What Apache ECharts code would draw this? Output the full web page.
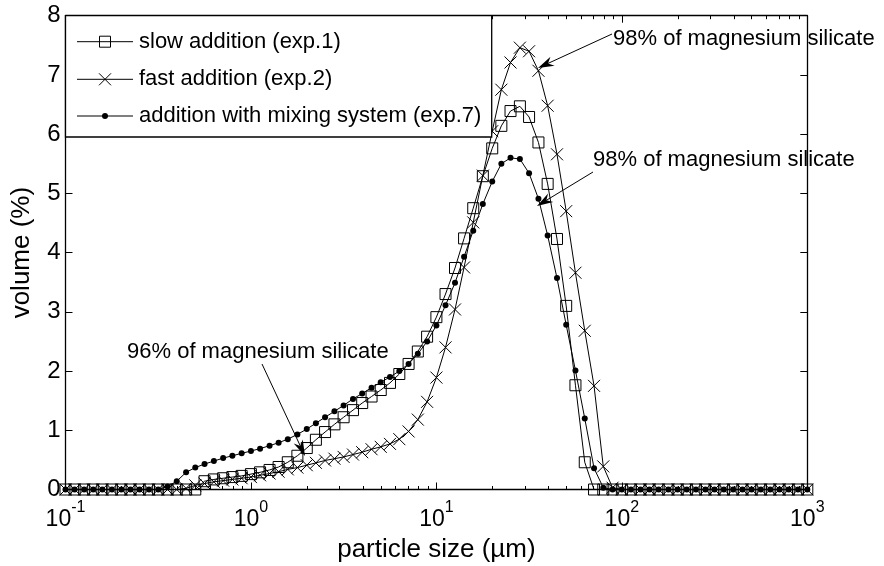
<!DOCTYPE html>
<html>
<head>
<meta charset="utf-8">
<script src="https://cdn.jsdelivr.net/npm/echarts@6/dist/echarts.min.js"></script>
<style>
  html, body { margin: 0; padding: 0; background: #fff; }
  #chart { width: 884px; height: 566px; }
</style>
</head>
<body>
<div id="chart"></div>
<script>
// Particle size classes (µm), 20 classes per decade
const sizes = [
  0.1, 0.112, 0.126, 0.141, 0.158, 0.178, 0.2, 0.224, 0.251, 0.282,
  0.316, 0.355, 0.398, 0.447, 0.501, 0.562, 0.631, 0.708, 0.794, 0.891,
  1, 1.12, 1.26, 1.41, 1.58, 1.78, 2.0, 2.24, 2.51, 2.82,
  3.16, 3.55, 3.98, 4.47, 5.01, 5.62, 6.31, 7.08, 7.94, 8.91,
  10, 11.2, 12.6, 14.1, 15.8, 17.8, 20.0, 22.4, 25.1, 28.2,
  31.6, 35.5, 39.8, 44.7, 50.1, 56.2, 63.1, 70.8, 79.4, 89.1,
  100, 112, 126, 141, 158, 178, 200, 224, 251, 282,
  316, 355, 398, 447, 501, 562, 631, 708, 794, 891, 1000
];

// Volume (%) per size class
const slowAddition = [
  0, 0, 0, 0, 0, 0, 0, 0, 0, 0,
  0, 0, 0, 0, 0, 0.14, 0.17, 0.19, 0.21, 0.23,
  0.26, 0.29, 0.33, 0.38, 0.46, 0.57, 0.70, 0.84, 0.97, 1.10,
  1.22, 1.34, 1.46, 1.57, 1.68, 1.80, 1.95, 2.12, 2.33, 2.58,
  2.91, 3.30, 3.74, 4.24, 4.75, 5.29, 5.76, 6.14, 6.39, 6.47,
  6.29, 5.86, 5.16, 4.23, 3.10, 1.76, 0.46, 0, 0, 0,
  0, 0, 0, 0, 0, 0, 0, 0, 0, 0,
  0, 0, 0, 0, 0, 0, 0, 0, 0, 0, 0
];

const fastAddition = [
  0, 0, 0, 0, 0, 0, 0, 0, 0, 0,
  0, 0, 0, 0.02, 0.07, 0.10, 0.13, 0.15, 0.17, 0.19,
  0.21, 0.24, 0.27, 0.30, 0.34, 0.37, 0.41, 0.45, 0.49, 0.52,
  0.55, 0.59, 0.63, 0.68, 0.72, 0.77, 0.85, 0.98, 1.18, 1.48,
  1.89, 2.40, 3.04, 3.75, 4.51, 5.30, 6.05, 6.75, 7.21, 7.46,
  7.40, 7.07, 6.48, 5.66, 4.70, 3.66, 2.68, 1.75, 0.39, 0.03,
  0, 0, 0, 0, 0, 0, 0, 0, 0, 0,
  0, 0, 0, 0, 0, 0, 0, 0, 0, 0, 0
];

const mixingSystem = [
  0, 0, 0, 0, 0, 0, 0, 0, 0, 0,
  0, 0.05, 0.14, 0.29, 0.37, 0.43, 0.48, 0.53, 0.57, 0.61,
  0.65, 0.69, 0.74, 0.79, 0.85, 0.93, 1.02, 1.12, 1.22, 1.32,
  1.42, 1.53, 1.62, 1.72, 1.81, 1.90, 2.00, 2.12, 2.29, 2.50,
  2.77, 3.11, 3.49, 3.93, 4.37, 4.82, 5.20, 5.50, 5.60, 5.58,
  5.34, 4.91, 4.29, 3.57, 2.78, 2.01, 1.20, 0.36, 0.03, 0,
  0, 0, 0, 0, 0, 0, 0, 0, 0, 0,
  0, 0, 0, 0, 0, 0, 0, 0, 0, 0, 0
];

const seriesNames = [
  'slow addition (exp.1)',
  'fast addition (exp.2)',
  'addition with mixing system (exp.7)'
];

// Minor tick positions of the logarithmic size axis (µm)
const minorTicks = [
  0.2, 0.3, 0.4, 0.5, 0.6, 0.7, 0.8, 0.9,
  2, 3, 4, 5, 6, 7, 8, 9,
  20, 30, 40, 50, 60, 70, 80, 90,
  200, 300, 400, 500, 600, 700, 800, 900
];

const FONT = '"Liberation Sans", Arial, Helvetica, sans-serif';
const BLACK = '#000';

function pair(values) {
  return sizes.map((s, i) => [s, values[i]]);
}

const crossPath = 'path://M0,0L10,10M10,0L0,10';

const chart = echarts.init(document.getElementById('chart'), null, { renderer: 'canvas' });

const option = {
  animation: false,
  backgroundColor: '#fff',
  grid: { left: 65.5, right: 76.7, top: 15.7, bottom: 76.5, containLabel: false, outerBoundsMode: 'none' },
  xAxis: [
    {
      type: 'log',
      logBase: 10,
      min: 0.1,
      max: 1000,
      position: 'bottom',
      name: 'particle size (µm)',
      nameLocation: 'middle',
      nameGap: 46,
      nameTextStyle: { fontFamily: FONT, fontSize: 26, color: BLACK },
      splitLine: { show: false },
      axisLine: { show: true, onZero: false, lineStyle: { color: BLACK, width: 1.3 } },
      axisTick: { show: true, inside: true, length: 7, lineStyle: { color: BLACK, width: 1 } },
      axisLabel: {
        show: true,
        margin: 10,
        formatter: v => '{b|10}{s|' + Math.round(Math.log10(v)) + '}',
        rich: {
          b: { fontFamily: FONT, fontSize: 23, color: BLACK, padding: [9, 0, 0, 0] },
          s: { fontFamily: FONT, fontSize: 16, color: BLACK, verticalAlign: 'top' }
        }
      }
    },
    {
      type: 'log',
      logBase: 10,
      min: 0.1,
      max: 1000,
      position: 'top',
      splitLine: { show: false },
      axisLabel: { show: false },
      axisLine: { show: true, onZero: false, lineStyle: { color: BLACK, width: 1.3 } },
      axisTick: { show: true, inside: true, length: 7, lineStyle: { color: BLACK, width: 1 } }
    }
  ],
  yAxis: [
    {
      type: 'value',
      min: 0,
      max: 8,
      interval: 1,
      position: 'left',
      name: 'volume (%)',
      nameLocation: 'middle',
      nameGap: 31,
      nameTextStyle: { fontFamily: FONT, fontSize: 26, color: BLACK },
      splitLine: { show: false },
      axisLine: { show: true, onZero: false, lineStyle: { color: BLACK, width: 1.3 } },
      axisTick: { show: true, inside: true, length: 7, lineStyle: { color: BLACK, width: 1 } },
      axisLabel: { fontFamily: FONT, fontSize: 24, color: BLACK, margin: 5 }
    },
    {
      type: 'value',
      min: 0,
      max: 8,
      interval: 1,
      position: 'right',
      splitLine: { show: false },
      axisLine: { show: true, onZero: false, lineStyle: { color: BLACK, width: 1.3 } },
      axisTick: { show: true, inside: true, length: 7, lineStyle: { color: BLACK, width: 1 } },
      axisLabel: { show: false }
    }
  ],
  series: [
    {
      name: seriesNames[0],
      type: 'line',
      data: pair(slowAddition),
      symbol: 'rect',
      symbolSize: 11,
      showAllSymbol: true,
      lineStyle: { color: BLACK, width: 1 },
      itemStyle: { color: 'rgba(0,0,0,0)', borderColor: BLACK, borderWidth: 1 },
      z: 3
    },
    {
      name: seriesNames[1],
      type: 'line',
      data: pair(fastAddition),
      symbol: crossPath,
      symbolSize: 12,
      showAllSymbol: true,
      lineStyle: { color: BLACK, width: 1 },
      itemStyle: { color: 'rgba(0,0,0,0)', borderColor: BLACK, borderWidth: 1 },
      z: 3
    },
    {
      name: seriesNames[2],
      type: 'line',
      data: pair(mixingSystem),
      symbol: 'circle',
      symbolSize: 6,
      showAllSymbol: true,
      lineStyle: { color: BLACK, width: 1 },
      itemStyle: { color: BLACK, borderWidth: 0 },
      z: 4
    }
  ]
};

chart.setOption(option);

// ---- minor ticks, legend box and annotation arrows ----
const rect = chart.getModel().getComponent('grid', 0).coordinateSystem.getRect();
const minorLen = 3.5;
const minorEls = [];
minorTicks.forEach(v => {
  const px = Math.round(chart.convertToPixel({ xAxisIndex: 0 }, v)) + 0.5;
  const yb = rect.y + rect.height, yt = rect.y;
  minorEls.push({ type: 'line', z: 5, silent: true, shape: { x1: px, y1: yb, x2: px, y2: yb - minorLen }, style: { stroke: BLACK, lineWidth: 1 } });
  minorEls.push({ type: 'line', z: 5, silent: true, shape: { x1: px, y1: yt, x2: px, y2: yt + minorLen }, style: { stroke: BLACK, lineWidth: 1 } });
});

function arrow(x1, y1, x2, y2) {
  const dx = x2 - x1, dy = y2 - y1;
  const L = Math.hypot(dx, dy);
  const ux = dx / L, uy = dy / L;
  const px = -uy, py = ux;
  const hl = 16, hw = 5, notch = 5;
  const bx = x2 - ux * hl, by = y2 - uy * hl;
  const nx = x2 - ux * (hl - notch), ny = y2 - uy * (hl - notch);
  return [
    { type: 'line', z: 10, shape: { x1: x1, y1: y1, x2: nx, y2: ny }, style: { stroke: BLACK, lineWidth: 1 } },
    { type: 'polygon', z: 10, shape: { points: [[x2, y2], [bx + px * hw, by + py * hw], [nx, ny], [bx - px * hw, by - py * hw]] }, style: { fill: BLACK } }
  ];
}

function label(text, x, y) {
  return {
    type: 'text', z: -1, x: x, y: y,
    style: { text: text, fontFamily: FONT, fontSize: 22, fill: BLACK, verticalAlign: 'middle', align: 'left' }
  };
}

const lx0 = 65.5, lx1 = 491.7, ly0 = 15.7, ly1 = 137;
const rowY = [41.7, 79.3, 116];
const lineX0 = 77, lineX1 = 133, mx = 105, textX = 139;

const legendEls = [
  { type: 'rect', z: 20, shape: { x: lx0, y: ly0, width: lx1 - lx0, height: ly1 - ly0 }, style: { fill: '#fff', stroke: BLACK, lineWidth: 1.3 } }
];
rowY.forEach((y, i) => {
  legendEls.push({ type: 'line', z: 21, shape: { x1: lineX0, y1: y, x2: lineX1, y2: y }, style: { stroke: BLACK, lineWidth: 1 } });
  legendEls.push({
    type: 'text', z: 21, x: textX, y: y,
    style: { text: seriesNames[i], fontFamily: FONT, fontSize: 22, fill: BLACK, verticalAlign: 'middle', align: 'left' }
  });
});
legendEls.push({ type: 'rect', z: 22, shape: { x: mx - 5.5, y: rowY[0] - 5.5, width: 11, height: 11 }, style: { fill: 'rgba(0,0,0,0)', stroke: BLACK, lineWidth: 1 } });
legendEls.push({ type: 'line', z: 22, shape: { x1: mx - 6, y1: rowY[1] - 6, x2: mx + 6, y2: rowY[1] + 6 }, style: { stroke: BLACK, lineWidth: 1 } });
legendEls.push({ type: 'line', z: 22, shape: { x1: mx + 6, y1: rowY[1] - 6, x2: mx - 6, y2: rowY[1] + 6 }, style: { stroke: BLACK, lineWidth: 1 } });
legendEls.push({ type: 'circle', z: 22, shape: { cx: mx, cy: rowY[2], r: 3 }, style: { fill: BLACK } });

const annotationEls = [].concat(
  [label('96% of magnesium silicate', 127, 352)],
  arrow(262, 364, 305, 456),
  [label('98% of magnesium silicate', 613, 39)],
  arrow(612, 34, 538, 68),
  [label('98% of magnesium silicate', 593, 160)],
  arrow(593, 172, 537, 206)
);

chart.setOption({ graphic: { elements: minorEls.concat(legendEls, annotationEls) } });
</script>
</body>
</html>
